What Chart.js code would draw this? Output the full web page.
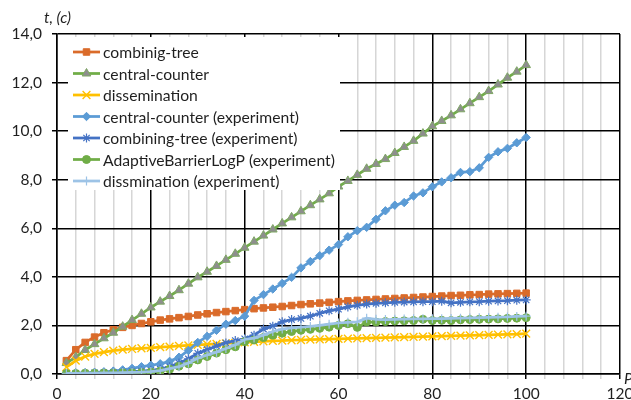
<!DOCTYPE html>
<html>
<head>
<meta charset="utf-8">
<title>t(p)</title>
<script src="https://cdn.jsdelivr.net/npm/chart.js@4.4.0/dist/chart.umd.min.js"></script>
<style>
  html, body { margin: 0; padding: 0; background: #fff; }
  #wrap { width: 631px; height: 400px; }
</style>
</head>
<body>
<div id="wrap"><canvas id="timeChart"></canvas></div>
<script>
// number of processors (x)
var processors = [2, 4, 6, 8, 10, 12, 14, 16, 18, 20, 22, 24, 26, 28, 30, 32, 34, 36, 38, 40,
                  42, 44, 46, 48, 50, 52, 54, 56, 58, 60, 62, 64, 66, 68, 70, 72, 74, 76, 78, 80,
                  82, 84, 86, 88, 90, 92, 94, 96, 98, 100];

// model curves
var combinigTree = [0.55, 1.0, 1.3, 1.52, 1.7, 1.82, 1.92, 2.0, 2.08, 2.15, 2.22, 2.27, 2.32, 2.37, 2.43, 2.48, 2.53, 2.57, 2.61, 2.65,
                    2.69, 2.72, 2.75, 2.78, 2.82, 2.86, 2.89, 2.92, 2.95, 2.98, 3.01, 3.03, 3.05, 3.07, 3.09, 3.11, 3.13, 3.15, 3.17, 3.19,
                    3.21, 3.23, 3.24, 3.26, 3.27, 3.29, 3.3, 3.31, 3.32, 3.33];
var centralCounter = [0.45, 0.69, 0.99, 1.23, 1.47, 1.7, 1.95, 2.22, 2.48, 2.74, 2.98, 3.21, 3.45, 3.72, 3.98, 4.21, 4.45, 4.7, 4.95, 5.2,
                      5.45, 5.7, 5.95, 6.2, 6.45, 6.7, 6.95, 7.19, 7.44, 7.72, 7.95, 8.2, 8.45, 8.65, 8.85, 9.1, 9.35, 9.6, 9.9, 10.2,
                      10.42, 10.65, 10.9, 11.15, 11.4, 11.65, 11.92, 12.2, 12.45, 12.72];
var dissemination = [0.28, 0.55, 0.72, 0.83, 0.9, 0.96, 1.0, 1.03, 1.06, 1.08, 1.11, 1.13, 1.16, 1.18, 1.2, 1.22, 1.24, 1.26, 1.28, 1.3,
                     1.32, 1.34, 1.36, 1.37, 1.39, 1.4, 1.42, 1.43, 1.44, 1.45, 1.46, 1.47, 1.48, 1.49, 1.5, 1.51, 1.52, 1.53, 1.54, 1.55,
                     1.56, 1.57, 1.58, 1.59, 1.6, 1.61, 1.62, 1.63, 1.64, 1.66];

// experiment
var centralCounterExp = [0.03, 0.04, 0.05, 0.07, 0.09, 0.12, 0.17, 0.23, 0.3, 0.36, 0.42, 0.52, 0.69, 0.97, 1.3, 1.55, 1.8, 2.05, 2.2, 2.38,
                         3.03, 3.27, 3.5, 3.73, 3.98, 4.37, 4.63, 4.87, 5.1, 5.33, 5.65, 5.9, 6.04, 6.37, 6.72, 6.95, 7.06, 7.33, 7.46, 7.71,
                         7.91, 8.08, 8.3, 8.33, 8.49, 8.92, 9.15, 9.29, 9.52, 9.74];
var combiningTreeExp = [0.02, 0.03, 0.04, 0.05, 0.06, 0.07, 0.08, 0.1, 0.12, 0.15, 0.2, 0.3, 0.45, 0.62, 0.85, 1.0, 1.15, 1.28, 1.38, 1.45,
                        1.6, 1.85, 1.97, 2.15, 2.24, 2.29, 2.38, 2.5, 2.6, 2.67, 2.76, 2.83, 2.88, 2.91, 2.93, 2.95, 2.96, 2.97, 2.98, 2.98,
                        3.0, 2.93, 2.95, 2.97, 2.98, 3.0, 3.01, 3.02, 3.04, 3.05];
var adaptiveLogPExp = [0.02, 0.02, 0.03, 0.03, 0.04, 0.04, 0.05, 0.05, 0.06, 0.08, 0.12, 0.2, 0.32, 0.42, 0.58, 0.72, 0.86, 1.0, 1.12, 1.33,
                       1.4, 1.5, 1.6, 1.68, 1.75, 1.8, 1.84, 1.88, 1.93, 2.0, 2.07, 1.92, 2.14, 2.14, 2.16, 2.18, 2.19, 2.2, 2.25, 2.2,
                       2.21, 2.2, 2.23, 2.24, 2.25, 2.26, 2.27, 2.29, 2.3, 2.32];
var disseminationExp = [0.03, 0.03, 0.04, 0.04, 0.05, 0.05, 0.06, 0.07, 0.08, 0.1, 0.14, 0.22, 0.3, 0.45, 0.65, 0.78, 0.9, 1.05, 1.2, 1.42,
                        1.48, 1.6, 1.75, 1.85, 1.9, 1.93, 1.96, 2.0, 2.05, 2.1, 2.13, 2.15, 2.3, 2.25, 2.24, 2.25, 2.26, 2.27, 2.27, 2.28,
                        2.28, 2.29, 2.3, 2.31, 2.32, 2.33, 2.34, 2.35, 2.37, 2.38];

var seriesNames = ['combinig-tree', 'central-counter', 'dissemination', 'central-counter (experiment)',
                   'combining-tree (experiment)', 'AdaptiveBarrierLogP (experiment)', 'dissmination (experiment)'];

var yTicks = [0, 2, 4, 6, 8, 10, 12, 14];
var xMajor = [0, 20, 40, 60, 80, 100, 120];

function toPoints(values) {
        return values.map(function (v, i) { return { x: processors[i], y: v }; });
}

function toComma(value) {
        return value.toFixed(1).replace('.', ',');
}

var FONT = 'Lato';
var TEXT = '#1f1f1f';

// styles per series: line colour, marker
var styles = [
        { color: '#DA6B2A', point: 'rect', radius: 4.6, fill: '#DA6B2A', edge: '#DA6B2A', pw: 1 },
        { color: '#70AD47', point: 'triangle', radius: 5, fill: '#8E8E8E', edge: '#7FA765', pw: 1 },
        { color: '#FFC000', point: 'crossRot', radius: 5.5, fill: '#FFC000', edge: '#FFC000', pw: 1.4 },
        { color: '#5B9BD5', point: 'rectRot', radius: 4.2, fill: '#5B9BD5', edge: '#5B9BD5', pw: 1 },
        { color: '#4472C4', point: 'star', radius: 4.5, fill: '#4472C4', edge: '#4472C4', pw: 1.2 },
        { color: '#70AD47', point: 'circle', radius: 4, fill: '#70AD47', edge: '#70AD47', pw: 1 },
        { color: '#9DC3E6', point: 'cross', radius: 4.5, fill: '#9DC3E6', edge: '#9DC3E6', pw: 1.2 }
];

var allSeries = [combinigTree, centralCounter, dissemination, centralCounterExp,
                 combiningTreeExp, adaptiveLogPExp, disseminationExp];

var datasets = allSeries.map(function (values, i) {
        var s = styles[i];
        return {
                label: seriesNames[i],
                data: toPoints(values),
                borderColor: s.color,
                borderWidth: 2.75,
                pointStyle: s.point,
                pointRadius: s.radius,
                pointBackgroundColor: s.fill,
                pointBorderColor: s.edge,
                pointBorderWidth: s.pw,
                fill: false,
                tension: 0,
                order: allSeries.length - i   // later series on top, like the original
        };
});

// legend on a white box inside the plot + the two axis captions
var overlayPlugin = {
        id: 'overlay',
        afterDatasetsDraw: function (chart) {
                var ctx = chart.ctx;
                var area = chart.chartArea;
                var boxLeft = area.left + 11, boxTop = area.top + 3;
                ctx.save();
                ctx.fillStyle = '#fff';
                ctx.fillRect(boxLeft, boxTop, 272, 153);

                var lx = boxLeft + 5, rowH = 21.5, y0 = boxTop + 15;
                ctx.font = '15.7px ' + FONT;
                ctx.textBaseline = 'middle';
                ctx.textAlign = 'left';
                datasets.forEach(function (ds, i) {
                        var y = y0 + i * rowH;
                        ctx.strokeStyle = ds.borderColor;
                        ctx.lineWidth = 2.75;
                        ctx.beginPath();
                        ctx.moveTo(lx, y);
                        ctx.lineTo(lx + 27, y);
                        ctx.stroke();
                        ctx.fillStyle = ds.pointBackgroundColor;
                        ctx.strokeStyle = ds.pointBorderColor;
                        ctx.lineWidth = ds.pointBorderWidth;
                        Chart.helpers.drawPoint(ctx, { pointStyle: ds.pointStyle, radius: ds.pointRadius, rotation: 0, borderWidth: ds.pointBorderWidth }, lx + 13.5, y);
                        ctx.fillStyle = TEXT;
                        ctx.fillText(ds.label, lx + 30, y + 1);
                });

                ctx.font = 'italic 15.5px ' + FONT;
                ctx.textBaseline = 'alphabetic';
                ctx.fillText('t, (c)', 44, 23);
                ctx.fillText('P', 624, 384);
                ctx.restore();
        }
};

var ctx = document.getElementById('timeChart').getContext('2d');
var timeChart = new Chart(ctx, {
        type: 'line',
        data: { datasets: datasets },
        plugins: [overlayPlugin],
        options: {
                responsive: true,
                maintainAspectRatio: false,
                animation: false,
                layout: { padding: { top: 34, right: 0, left: 0, bottom: 0 } },
                plugins: {
                        legend: { display: false },
                        tooltip: { enabled: false }
                },
                scales: {
                        x: {
                                type: 'linear',
                                min: 0,
                                max: 120,
                                afterFit: function (scale) {
                                        scale.height = 26;
                                        scale.paddingRight = 11;
                                },
                                ticks: {
                                        stepSize: 4,
                                        autoSkip: false,
                                        maxRotation: 0,
                                        padding: 6,
                                        color: TEXT,
                                        font: { family: FONT, size: 15.5 },
                                        callback: function (value) { return xMajor.indexOf(value) >= 0 ? String(value) : ''; }
                                },
                                grid: {
                                        tickLength: 5,
                                        lineWidth: 1.5,
                                        color: function (c) { return xMajor.indexOf(c.tick.value) >= 0 ? '#000' : '#D6D6D6'; }
                                },
                                border: { color: '#000', width: 1.5 }
                        },
                        y: {
                                min: 0,
                                max: 14,
                                afterFit: function (scale) { scale.width = 57; },
                                afterBuildTicks: function (scale) {
                                        scale.ticks = yTicks.map(function (v) { return { value: v }; });
                                },
                                ticks: {
                                        padding: 10,
                                        color: TEXT,
                                        font: { family: FONT, size: 15.5 },
                                        callback: function (value) { return toComma(value); }
                                },
                                grid: { tickLength: 5, lineWidth: 1.5, color: '#000' },
                                border: { color: '#000', width: 1.5 }
                        }
                }
        }
});
</script>
</body>
</html>
